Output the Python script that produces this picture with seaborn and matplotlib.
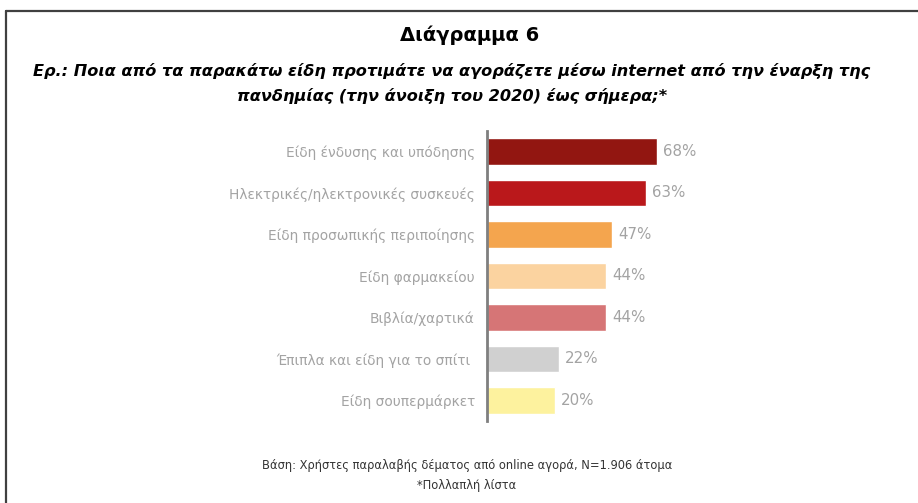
import numpy as np
import pandas as pd
import matplotlib.pyplot as plt
import seaborn as sns
from matplotlib.lines import Line2D

categories = [
    "Είδη ένδυσης και υπόδησης",
    "Ηλεκτρικές/ηλεκτρονικές συσκευές",
    "Είδη προσωπικής περιποίησης",
    "Είδη φαρμακείου",
    "Βιβλία/χαρτικά",
    "Έπιπλα και είδη για το σπίτι ",
    "Είδη σουπερμάρκετ",
]
values = [68, 63, 47, 44, 44, 22, 20]
colors = ["#921611", "#BA181B", "#F4A54E", "#FBD3A0", "#D67576", "#D0D0D0", "#FDF29E"]

# το Excel ξεκινά τον άξονα λίγο κάτω από το μηδέν
axis_offset = 11.7

sns.set_style("white")
plt.rcParams["font.family"] = ["DejaVu Sans"]

df = pd.DataFrame({"cat": categories, "val": values})
df["len"] = df["val"] + axis_offset

fig = plt.figure(figsize=(9.18, 5.03), dpi=100)
W, H = 918, 503
ax = fig.add_axes([487.3 / W, 1 - 421 / H, 212.5 / W, (421 - 130.75) / H])

sns.barplot(data=df, y="cat", x="len", hue="cat", palette=colors,
            legend=False, width=0.64, ax=ax, saturation=1)
ax.set_xlim(0, 100)
ax.set_ylim(6.5, -0.5)
ax.set_xlabel("")
ax.set_ylabel("")
ax.set_xticks([])
for s in ["top", "right", "bottom"]:
    ax.spines[s].set_visible(False)
ax.spines["left"].set_color("#7f7f7f")
ax.spines["left"].set_linewidth(2)
ax.tick_params(axis="y", length=0, pad=9, labelsize=9.9, labelcolor="#a3a3a3")

for i, v in enumerate(values):
    ax.annotate(f"{v}%", (v + axis_offset, i), xytext=(4.5, 0),
                textcoords="offset points", va="center", ha="left",
                fontsize=10.8, color="#a3a3a3")

fig.text(470 / W, 1 - 35 / H, "Διάγραμμα 6", ha="center", va="center",
         fontsize=14, fontweight="bold", color="black")
fig.text(452 / W, 1 - 71 / H,
         "Ερ.: Ποια από τα παρακάτω είδη προτιμάτε να αγοράζετε μέσω internet από την έναρξη της",
         ha="center", va="center", fontsize=11.6, fontweight="bold", style="italic",
         color="black")
fig.text(452 / W, 1 - 96 / H, "πανδημίας (την άνοιξη του 2020) έως σήμερα;*",
         ha="center", va="center", fontsize=11.6, fontweight="bold", style="italic",
         color="black")
fig.text(467 / W, 1 - 466 / H,
         "Βάση: Χρήστες παραλαβής δέματος από online αγορά, N=1.906 άτομα",
         ha="center", va="center", fontsize=8.3, color="#333333")
fig.text(467 / W, 1 - 485 / H, "*Πολλαπλή λίστα",
         ha="center", va="center", fontsize=8.3, color="#333333")

# πλαίσιο
fig.add_artist(Line2D([6 / W, 6 / W], [0, 1 - 10.5 / H], transform=fig.transFigure,
                      color="#404040", lw=1.6))
fig.add_artist(Line2D([6 / W, 1], [1 - 10.5 / H, 1 - 10.5 / H], transform=fig.transFigure,
                      color="#404040", lw=1.6))

fig.savefig("out.png", dpi=100)
